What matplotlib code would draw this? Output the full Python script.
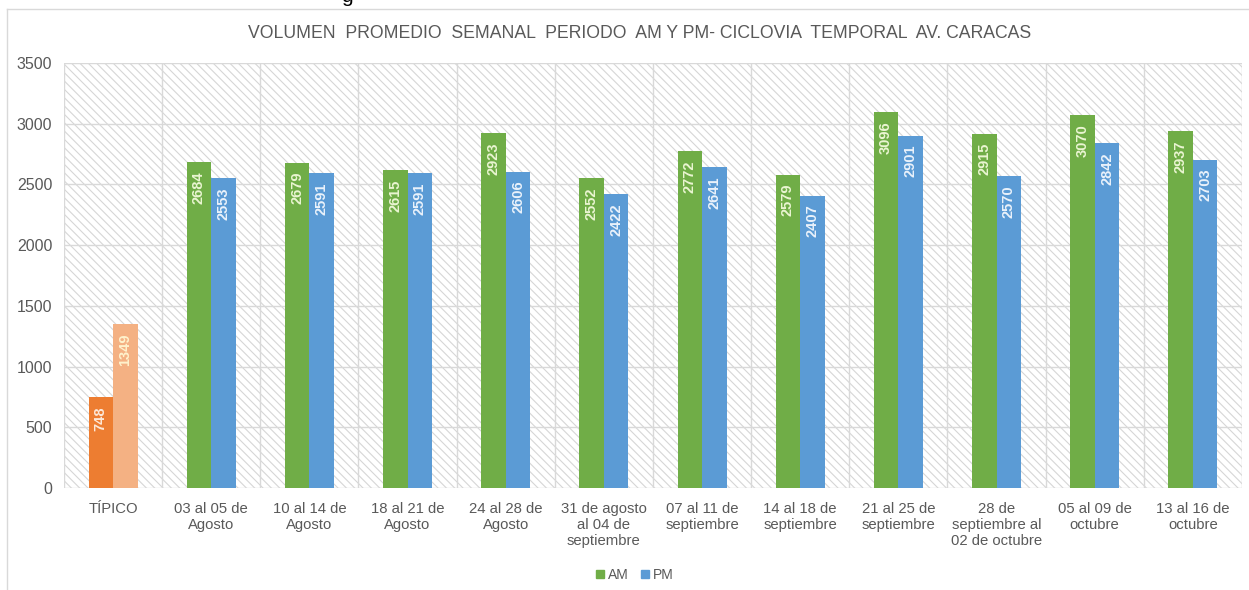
import numpy as np
import matplotlib
matplotlib.use("Agg")
import matplotlib.pyplot as plt
from matplotlib.patches import Rectangle
from matplotlib.lines import Line2D

plt.rcParams['font.family'] = ['Liberation Sans', 'DejaVu Sans']
plt.rcParams['hatch.linewidth'] = 0.8

# Data
categories = ['TÍPICO', '03 al 05 de\nAgosto', '10 al 14 de\nAgosto', '18 al 21 de\nAgosto',
              '24 al 28 de\nAgosto', '31 de agosto\nal 04 de\nseptiembre', '07 al 11 de\nseptiembre',
              '14 al 18 de\nseptiembre', '21 al 25 de\nseptiembre', '28 de\nseptiembre al\n02 de octubre',
              '05 al 09 de\noctubre', '13 al 16 de\noctubre']
am_values = [748, 2684, 2679, 2615, 2923, 2552, 2772, 2579, 3096, 2915, 3070, 2937]
pm_values = [1349, 2553, 2591, 2591, 2606, 2422, 2641, 2407, 2901, 2570, 2842, 2703]
y_ticks = [0, 500, 1000, 1500, 2000, 2500, 3000, 3500]

title = 'VOLUMEN  PROMEDIO  SEMANAL  PERIODO  AM Y PM- CICLOVIA  TEMPORAL  AV. CARACAS'

GREEN, BLUE = '#70ad47', '#5b9bd5'
ORANGE, LORANGE = '#ed7d31', '#f4b183'
GRAY = '#595959'
GRID = '#d9d9d9'

W, H = 1249, 590
fig = plt.figure(figsize=(W / 100, H / 100), dpi=100)

# outer chart frame (cut by the screenshot on the right and bottom)
fig.add_artist(Line2D([7 / W, 7 / W], [0, 1 - 9 / H], color=GRID, lw=1))
fig.add_artist(Line2D([7 / W, 1], [1 - 9 / H, 1 - 9 / H], color=GRID, lw=1))
# fragment of surrounding document text
fig.text(347 / W, 1 + 4 / H, 'g', fontsize=15, color='black', ha='center', va='center')

ax = fig.add_axes([64 / W, 1 - 488 / H, (1242 - 64) / W, (488 - 63) / H])

# hatched plot background
bg = Rectangle((0, 0), 1, 1, transform=ax.transAxes, facecolor='white',
               edgecolor='#d6d6d6', hatch='\\\\\\\\', lw=0, zorder=0)
ax.add_patch(bg)

x = np.arange(len(categories))
w = 0.25
am_colors = [ORANGE] + [GREEN] * (len(categories) - 1)
pm_colors = [LORANGE] + [BLUE] * (len(categories) - 1)
ax.bar(x - w / 2, am_values, w, color=am_colors, zorder=3)
ax.bar(x + w / 2, pm_values, w, color=pm_colors, zorder=3)

am_txt = ['#fde9d9'] + ['#eaf5d2'] * (len(categories) - 1)
pm_txt = ['#fff2cc'] + ['#eaf2fb'] * (len(categories) - 1)
for i in range(len(categories)):
    ax.annotate(str(am_values[i]), (x[i] - w / 2, am_values[i]), xytext=(0, -6.5),
                textcoords='offset points', rotation=90, ha='center', va='top',
                fontsize=10.5, fontweight='bold', color=am_txt[i], zorder=4)
    ax.annotate(str(pm_values[i]), (x[i] + w / 2, pm_values[i]), xytext=(0, -6.5),
                textcoords='offset points', rotation=90, ha='center', va='top',
                fontsize=10.5, fontweight='bold', color=pm_txt[i], zorder=4)

ax.set_xlim(-0.5, len(categories) - 0.5)
ax.set_ylim(0, 3500)
ax.set_yticks(y_ticks)
ax.set_yticklabels([str(v) for v in y_ticks], fontsize=11.5, color=GRAY)
ax.set_xticks(x)
ax.set_xticklabels(categories, fontsize=10.7, color=GRAY, linespacing=1.2)
ax.tick_params(length=0, pad=10)
ax.tick_params(axis='y', pad=8.5)

for v in y_ticks:
    ax.axhline(v, color=GRID, lw=1, zorder=1)
for b in np.arange(len(categories) + 1) - 0.5:
    ax.axvline(b, color=GRID, lw=1, zorder=1)
for s in ax.spines.values():
    s.set_visible(False)

fig.text(640 / W, 1 - 33 / H, title, fontsize=12.7, color=GRAY, ha='center', va='center')

handles = [Line2D([], [], marker='s', color=GREEN, ls='none', markersize=6),
           Line2D([], [], marker='s', color=BLUE, ls='none', markersize=6)]
fig.legend(handles, ['AM', 'PM'], loc='center', bbox_to_anchor=(635 / W, 1 - 575 / H),
           ncol=2, frameon=False, fontsize=10, handlelength=0.6, handletextpad=0.25,
           columnspacing=0.9, labelcolor=GRAY)

fig.savefig('out.png', dpi=100)
